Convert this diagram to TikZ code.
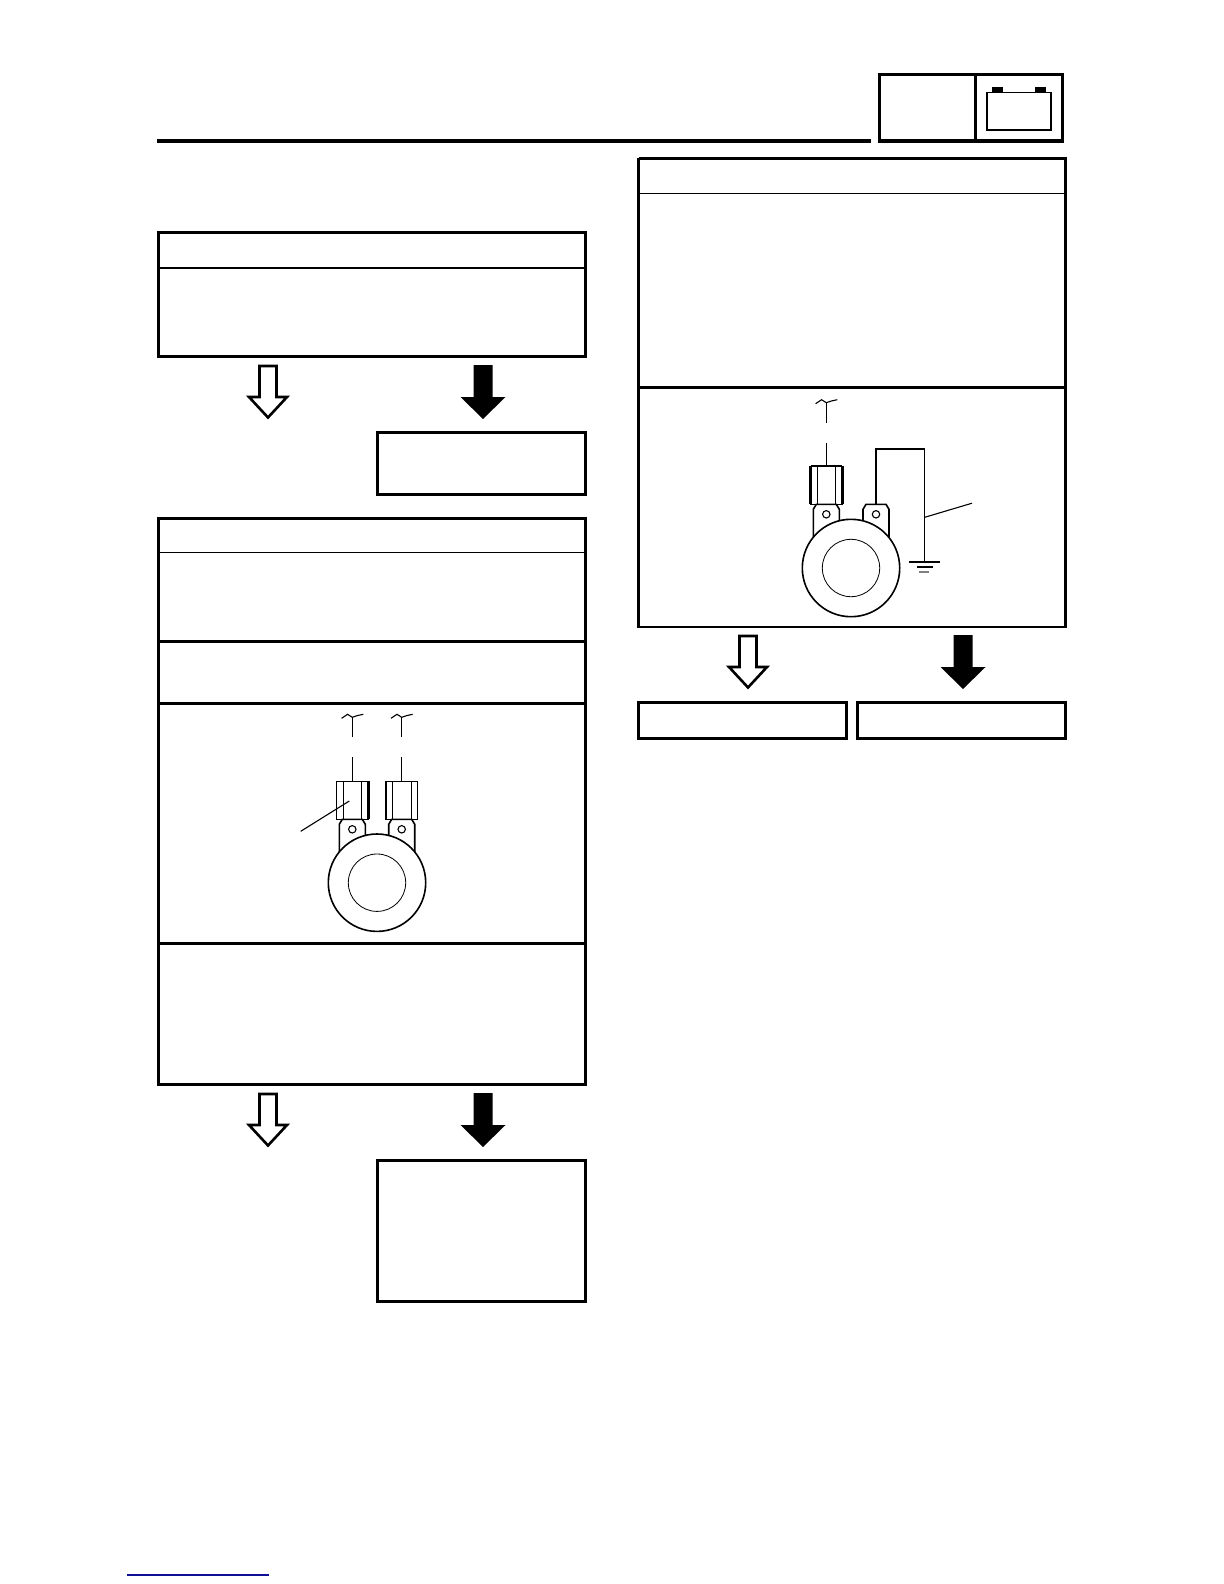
\documentclass[tikz,border=0pt]{standalone}
\definecolor{linkblue}{RGB}{16,16,150}
\tikzset{
  framed/.style={line width=1.5pt,line join=miter},
  divider/.style={line width=0.7pt},
  fine/.style={line width=0.55pt},
  hair/.style={line width=0.4pt},
  outline/.style={line width=0.8pt},
  pics/plug/.style={code={
    \draw[fine] (-10.7,1) -- (-4.7,-3) -- (0,0) -- (5,-1.7) -- (11,-3);
    \draw[fine] (0,0) -- (0,20);
    \draw[fine] (0,40) -- (0,64);
    \draw[fine] (-15.7,64) rectangle (15.7,102);
    \draw[hair] (-9,64) -- (-9,102);
    \draw[hair] (9.3,64) -- (9.3,102);
  }},
  pics/lug/.style={code={
    \draw[outline] (-13,32.7) -- (-13,5) -- (-10,0) -- (10,0) -- (13,5) -- (13,15.7);
    \draw[fine] (0,10) circle (3.7);
  }},
  pics/emptyarrow/.style={code={
    \draw[line width=1.3pt,fill=white,line join=miter] (-8.5,0) -- (8.5,0) -- (8.5,31) -- (19,31)
      -- (0,51.5) -- (-19,31) -- (-8.5,31) -- cycle;
  }},
  pics/solidarrow/.style={code={
    \fill (-9.5,0) -- (9.5,0) -- (9.5,32) -- (22.5,32) -- (0,54) -- (-22.5,32) -- (-9.5,32) -- cycle;
  }}
}
\begin{document}
\begin{tikzpicture}[x=0.5pt,y=-0.5pt]
    \useasboundingbox (0,0) rectangle (1224,1584);
    % Coordinates
    \coordinate (ruleL) at (157,141);
    \coordinate (ruleR) at (871,141);
    \coordinate (tabA) at (879,74.5);
    \coordinate (tabB) at (1062.5,141);
    \coordinate (colA) at (158.5,232.5);
    \coordinate (colB) at (585.5,356);
    \coordinate (boxA) at (377.5,432);
    \coordinate (boxB) at (585.5,494.5);
    \coordinate (secA) at (158.5,518);
    \coordinate (secB) at (585.5,1084.5);
    \coordinate (lowA) at (377.5,1160);
    \coordinate (lowB) at (585.5,1301.5);
    \coordinate (sideA) at (638.5,158);
    \coordinate (sideB) at (1065,627);
    \coordinate (yesA) at (638.5,702);
    \coordinate (yesB) at (846.5,738.5);
    \coordinate (noA) at (857.5,702);
    \coordinate (noB) at (1065.5,738.5);

    % Header
    \draw[framed] (ruleL) -- (ruleR);
    \draw[framed] (tabA) rectangle (tabB);
    \draw[framed] (975.5,74.5) -- (975.5,141);
    \draw[outline] (987,92.7) rectangle (1051,130.3);
    \fill (992,87) rectangle (1003,92.7);
    \fill (1035,87) rectangle (1046,92.7);

    % Left column
    \draw[framed] (colA) rectangle (colB);
    \draw[divider] (158.5,268) -- (585.5,268);
    \draw[framed] (boxA) rectangle (boxB);
    \draw[framed] (secA) rectangle (secB);
    \draw[divider] (158.5,552.5) -- (585.5,552.5);
    \draw[framed] (158.5,641.5) -- (585.5,641.5);
    \draw[framed] (158.5,703) -- (585.5,703);
    \draw[framed] (158.5,943.5) -- (585.5,943.5);
    \draw[framed] (lowA) rectangle (lowB);

    % Right column
    \draw[framed] (sideA) -- (1065,158) -- (sideB);
    \draw[framed] (sideA) -- (638.5,627);
    \draw[line width=1pt] (636.5,627) -- (1067,627);
    \draw[divider] (638.5,193.5) -- (1065,193.5);
    \draw[framed] (638.5,387.5) -- (1065,387.5);
    \draw[framed] (yesA) rectangle (yesB);
    \draw[framed] (noA) rectangle (noB);

    % Arrows
    \foreach \ax/\ay in {268/366,268/1094,748/636}
      \pic at (\ax,\ay) {emptyarrow};
    \foreach \ax/\ay in {483/365,483/1093,963/635}
      \pic at (\ax,\ay) {solidarrow};

    % First coil
    \pic at (352.3,717.3) {plug};
    \pic at (401.7,717.3) {plug};
    \draw[framed] (368,781.3) -- (368,819.3);
    \pic at (352.3,819.3) {lug};
    \pic[xscale=-1] at (401.7,819.3) {lug};
    \draw[outline,fill=white] (377,882.7) circle (48.7);
    \draw[hair] (377,882.7) circle (28.7);
    \draw[fine] (300.7,831.3) -- (349.3,801);

    % Second coil
    \pic at (826.3,402.7) {plug};
    \draw[framed] (810.7,466) -- (810.7,504.3);
    \draw[framed] (842,466) -- (842,504.3);
    \draw[outline] (810.7,466) -- (842,466);
    \draw[outline] (810.7,504.3) -- (842,504.3);
    \pic at (826.3,504.3) {lug};
    \pic[xscale=-1] at (876,504.3) {lug};
    \draw[outline,fill=white] (851,568) circle (48.7);
    \draw[hair] (851,568) circle (28.7);
    \coordinate (earth) at (924.7,562);
    \draw[fine] (876,504.3) -- (876,449) -- (924.7,449) -- (earth);
    \draw[fine] (909.3,562) -- (940.3,562);
    \draw[fine] (917.3,567) -- (932.7,567);
    \draw[fine,gray] (919.3,572) -- (929.3,572);
    \draw[fine] (924.7,517.3) -- (972,503.2);

    % Link at the page foot
    \draw[linkblue,line width=0.7pt] (127,1575) -- (269,1575);
\end{tikzpicture}
\end{document}
